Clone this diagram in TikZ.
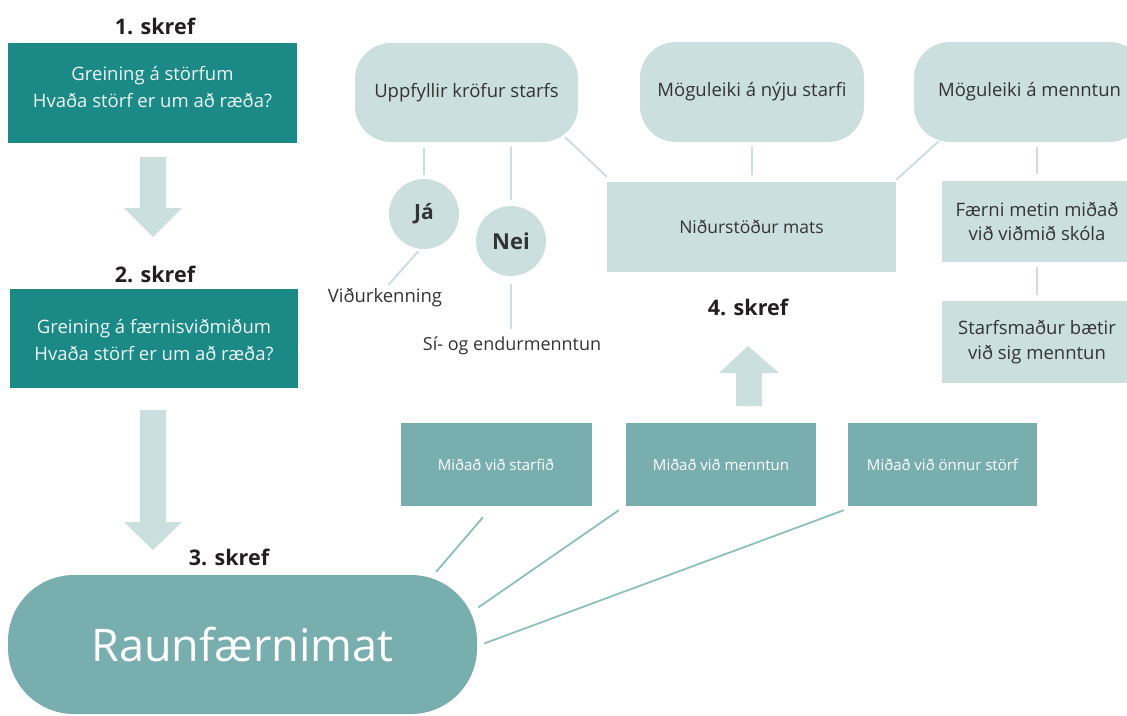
\documentclass[tikz,border=0pt]{standalone}
\usepackage{fontspec}
\setmainfont{Open Sans}
\usetikzlibrary{calc}
\definecolor{tealdark}{HTML}{1B8986}
\definecolor{tealmid}{HTML}{78AFAE}
\definecolor{teallight}{HTML}{CBDFDF}
\definecolor{linemid}{HTML}{8DBFBE}
\definecolor{inkgray}{HTML}{333333}
\definecolor{inkdark}{HTML}{231F20}
\tikzset{
  stepbox/.style={fill=tealdark,minimum width=289pt,minimum height=100pt,inner sep=0pt},
  steptext/.style={text=white!92!tealdark,align=center,font=\fontsize{18.5}{27}\selectfont},
  steplabel/.style={text=inkdark,font=\bfseries\fontsize{21.5}{24}\selectfont},
  goalbox/.style={fill=teallight,rounded corners=36pt,minimum width=224pt,minimum height=100pt,inner sep=0pt,text=inkgray,font=\fontsize{18.5}{22}\selectfont},
  resultbox/.style={fill=teallight,inner sep=0pt,text=inkgray,align=center,font=\fontsize{18.5}{24.5}\selectfont},
  answer/.style={circle,fill=teallight,minimum size=70pt,inner sep=0pt,text=inkgray},
  outcome/.style={text=inkgray,inner sep=2pt,font=\fontsize{18.5}{22}\selectfont},
  basisbox/.style={fill=tealmid,minimum width=190pt,minimum height=83pt,inner sep=0pt,text=white,font=\fontsize{15}{18}\selectfont},
  conn/.style={draw=teallight,line width=2pt},
  connmid/.style={draw=linemid,line width=1.8pt},
}
\begin{document}
\begin{tikzpicture}[x=1pt,y=-1pt]
\clip (0,0) rectangle (1127,715);
\useasboundingbox (0,0) rectangle (1127,715);
% left column: steps 1 to 3
\node[steplabel] (skref1) at (155,26) {1. skref};
\node[stepbox] (s1) at (152.5,93) {};
\node[steptext] (s1txt) at (152.5,87) {Greining á störfum\\Hvaða störf er um að ræða?};
\fill[teallight] (140,157) -- (166,157) -- (166,208) -- (182,208) -- (153,237) -- (124,208) -- (140,208) -- cycle;
\node[steplabel] (skref2) at (155,274) {2. skref};
\node[stepbox,minimum width=288pt,minimum height=99pt] (s2) at (154,338.5) {};
\node[steptext] (s2txt) at (154,340) {Greining á færnisviðmiðum\\Hvaða störf er um að ræða?};
\fill[teallight] (140,410) -- (166,410) -- (166,522) -- (182,522) -- (153,550) -- (124,522) -- (140,522) -- cycle;
\node[steplabel] (skref3) at (229,557) {3. skref};
\node[fill=tealmid,rounded corners=66pt,minimum width=469pt,minimum height=139pt,inner sep=0pt,text=white,font=\fontsize{45}{50}\selectfont] (raun) at (242.5,644.5) {Raunfærnimat};
% bases of the assessment
\node[basisbox,minimum width=191pt] (ma) at (496,464.5) {Miðað við starfið};
\node[basisbox] (mb) at (721,464.5) {Miðað við menntun};
\node[basisbox,minimum width=189pt] (mc) at (942.5,464.5) {Miðað við önnur störf};
\draw[connmid] ([xshift=-13pt,yshift=-11pt]ma.south) -- ([xshift=-41pt,yshift=3pt]raun.north east);
\draw[connmid] ([xshift=-7pt,yshift=-4pt]mb.south west) -- ([xshift=1pt,yshift=37pt]raun.east);
\draw[connmid] ([xshift=-4pt,yshift=-4pt]mc.south west) -- ([xshift=7pt,yshift=1pt]raun.east);
% step 4
\fill[teallight] (736,406) -- (762,406) -- (762,373) -- (779,373) -- (748,346) -- (719,373) -- (736,373) -- cycle;
\node[steplabel] (skref4) at (748,307) {4. skref};
\node[resultbox,minimum width=289pt,minimum height=90pt,font=\fontsize{17.5}{22}\selectfont] (nid) at (751.5,227) {Niðurstöður mats};
% outcomes
\node[goalbox,minimum width=223pt,minimum height=99pt] (upp) at (466.5,92.5) {Uppfyllir kröfur starfs};
\node[goalbox] (nys) at (752,92) {Möguleiki á nýju starfi};
\node[goalbox,minimum width=231pt] (men) at (1029.5,92) {Möguleiki á menntun};
\node[answer,font=\bfseries\fontsize{21}{24}\selectfont] (ja) at (424,214) {Já};
\node[answer,font=\bfseries\fontsize{22}{26}\selectfont] (nei) at (511,241) {Nei};
\node[outcome] (vid) at (385,298) {Viðurkenning};
\node[outcome,font=\fontsize{18}{22}\selectfont] (sie) at (512,346) {Sí- og endurmenntun};
\node[resultbox,minimum width=190pt,minimum height=81pt] (fae) at (1037,221.5) {Færni metin miðað\\við viðmið skóla};
\node[resultbox,minimum width=190pt,minimum height=82pt] (stm) at (1037,342) {Starfsmaður bætir\\við sig menntun};
\draw[conn,shorten <=6pt,shorten >=4pt] (ja.north |- upp.south) -- (ja.north);
\draw[conn,shorten <=5pt,shorten >=6pt] (nei.north |- upp.south) -- (nei.north);
\draw[conn,shorten <=3pt,shorten >=2pt] (ja.-96) -- ([xshift=2pt]vid.north);
\draw[conn,shorten <=8pt,shorten >=6pt] (nei.south) -- (nei.south |- sie.north);
\draw[conn] ([xshift=-13pt,yshift=5pt]upp.south east) -- ([yshift=5pt]nid.north west);
\draw[conn,shorten <=5pt,shorten >=7pt] (nid.north |- nys.south) -- (nid.north);
\draw[conn] ([xshift=25pt,yshift=1pt]men.south west) -- ([yshift=2pt]nid.north east);
\draw[conn,shorten <=5pt,shorten >=7pt] (fae.north |- men.south) -- (fae.north);
\draw[conn,shorten <=5pt,shorten >=6pt] (fae.south) -- (stm.north);
\end{tikzpicture}
\end{document}
